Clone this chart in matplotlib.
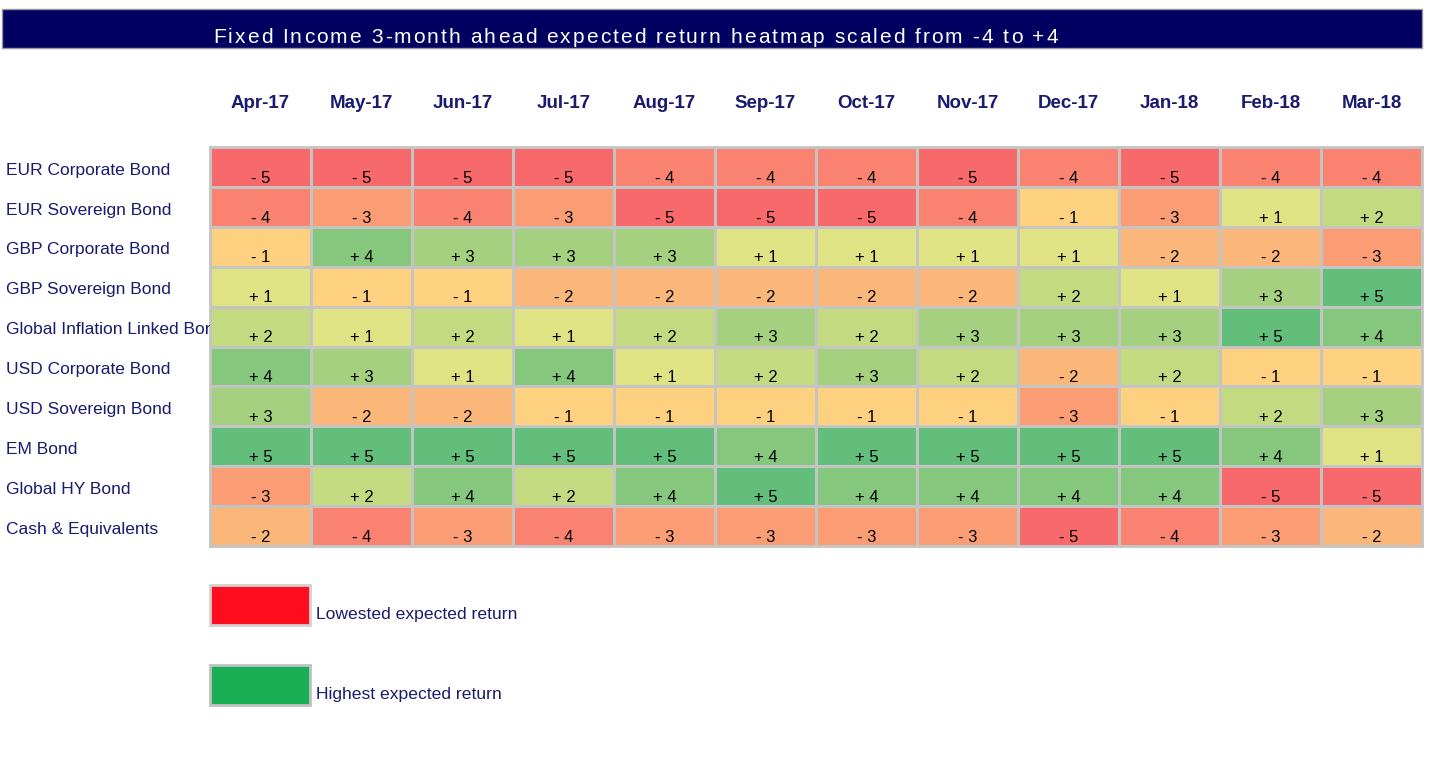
import numpy as np
import matplotlib
matplotlib.use("Agg")
import matplotlib.pyplot as plt
from matplotlib.colors import ListedColormap, BoundaryNorm
from matplotlib.patches import Rectangle
from matplotlib.transforms import blended_transform_factory, Bbox

plt.rcParams['font.family'] = ['Liberation Sans', 'DejaVu Sans']

# data
months = ["Apr-17", "May-17", "Jun-17", "Jul-17", "Aug-17", "Sep-17",
          "Oct-17", "Nov-17", "Dec-17", "Jan-18", "Feb-18", "Mar-18"]
assets = ["EUR Corporate Bond", "EUR Sovereign Bond", "GBP Corporate Bond",
          "GBP Sovereign Bond", "Global Inflation Linked Bond", "USD Corporate Bond",
          "USD Sovereign Bond", "EM Bond", "Global HY Bond", "Cash & Equivalents"]
eur_corp = [-5, -5, -5, -5, -4, -4, -4, -5, -4, -5, -4, -4]
eur_sov = [-4, -3, -4, -3, -5, -5, -5, -4, -1, -3, 1, 2]
gbp_corp = [-1, 4, 3, 3, 3, 1, 1, 1, 1, -2, -2, -3]
gbp_sov = [1, -1, -1, -2, -2, -2, -2, -2, 2, 1, 3, 5]
global_il = [2, 1, 2, 1, 2, 3, 2, 3, 3, 3, 5, 4]
usd_corp = [4, 3, 1, 4, 1, 2, 3, 2, -2, 2, -1, -1]
usd_sov = [3, -2, -2, -1, -1, -1, -1, -1, -3, -1, 2, 3]
em_bond = [5, 5, 5, 5, 5, 4, 5, 5, 5, 5, 4, 1]
global_hy = [-3, 2, 4, 2, 4, 5, 4, 4, 4, 4, -5, -5]
cash = [-2, -4, -3, -4, -3, -3, -3, -3, -5, -4, -3, -2]

scores = np.array([eur_corp, eur_sov, gbp_corp, gbp_sov, global_il,
                   usd_corp, usd_sov, em_bond, global_hy, cash])

title = "Fixed Income 3-month ahead expected return heatmap scaled from -4 to +4"

# colour per score -5..-1, +1..+5
score_colors = ["#F8696B", "#F98370", "#FA9D75", "#FBB77A", "#FDD17F",
                "#E0E383", "#C4DA81", "#A4D07F", "#85C77C", "#63BE7B"]
cmap = ListedColormap(score_colors)
idx = np.where(scores > 0, scores - 1, scores)  # drop the zero slot
norm = BoundaryNorm(np.arange(-5.5, 5.5, 1), cmap.N)

W, H = 1448, 760
fig = plt.figure(figsize=(W / 100, H / 100), dpi=100)
navy = "#1A1A6E"

# title bar
fig.patches.append(Rectangle((2 / W, 1 - 48 / H), 1420 / W, 39 / H,
                             transform=fig.transFigure, facecolor="#000060",
                             edgecolor="#999999", linewidth=1))

# title drawn letter by letter to get the wide tracking of the original
renderer = fig.canvas.get_renderer()
tsize = 15


def text_w(s):
    t = fig.text(0, 0, s, fontsize=tsize)
    w = t.get_window_extent(renderer).width
    t.remove()
    return w


base = text_w("xx")
adv = [text_w("x" + c + "x") - base for c in title]
track = (845 - sum(adv)) / (len(title) - 1)
x = 213
for c, a in zip(title, adv):
    fig.text(x / W, 1 - 43 / H, c, color="white", fontsize=tsize,
             ha="left", va="baseline")
    x += a + track

ax = fig.add_axes([210 / W, 1 - 546 / H, 1212 / W, 399 / H])
ax.pcolormesh(idx, cmap=cmap, norm=norm, edgecolors="#C4C4C4", linewidth=2)
ax.set_xlim(0, len(months))
ax.set_ylim(len(assets), 0)
ax.set_xticks([])
ax.set_yticks([])
for s in ax.spines.values():
    s.set_color("#C4C4C4")
    s.set_linewidth(2)

for i in range(len(assets)):
    for j in range(len(months)):
        v = scores[i, j]
        lab = ("+ %d" % v) if v > 0 else ("- %d" % -v)
        ax.text(j + 0.5, i + 0.78, lab, ha="center", va="center",
                fontsize=12, color="black")

# column labels
tr_col = blended_transform_factory(ax.transData, fig.transFigure)
for j, m in enumerate(months):
    ax.text(j + 0.5, 1 - 104 / H, m, transform=tr_col, ha="center", va="center",
            fontsize=13.5, fontweight="bold", color=navy)

# row labels, clipped at the heatmap edge
tr_row = blended_transform_factory(fig.transFigure, ax.transData)
clip = Bbox([[0, 0], [210, H]])
for i, a in enumerate(assets):
    t = ax.text(6 / W, i + 0.58, a, transform=tr_row, ha="left", va="center",
                fontsize=12.5, color=navy, clip_on=True)
    t.set_clip_box(clip)

# legend boxes
fig.patches.append(Rectangle((210 / W, 1 - 625 / H), 100 / W, 40 / H,
                             transform=fig.transFigure, facecolor="#FF0D1F",
                             edgecolor="#D0D0D0", linewidth=2))
fig.text(316 / W, 1 - 615 / H, "Lowested expected return", color=navy,
         fontsize=12.6, va="center", ha="left")
fig.patches.append(Rectangle((210 / W, 1 - 705 / H), 100 / W, 40 / H,
                             transform=fig.transFigure, facecolor="#1AAE54",
                             edgecolor="#C0C0C0", linewidth=2))
fig.text(316 / W, 1 - 694 / H, "Highest expected return", color=navy,
         fontsize=12.6, va="center", ha="left")

fig.savefig("out.png", dpi=100, facecolor="white")
